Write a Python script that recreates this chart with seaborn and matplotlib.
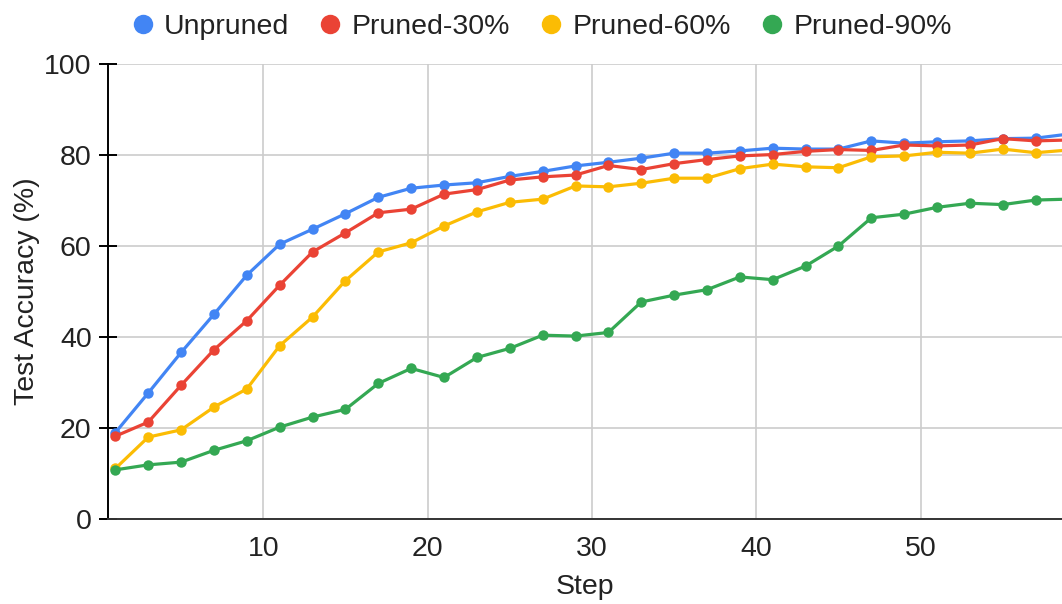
import matplotlib
matplotlib.use("Agg")
import matplotlib.pyplot as plt
from matplotlib.lines import Line2D
import numpy as np
import pandas as pd
import seaborn as sns

# Training steps at which test accuracy was evaluated
steps = [1, 3, 5, 7, 9, 11, 13, 15, 17, 19, 21, 23, 25, 27, 29,
         31, 33, 35, 37, 39, 41, 43, 45, 47, 49, 51, 53, 55, 57, 59]

unpruned = [19.0, 27.7, 36.6, 45.0, 53.6, 60.4, 63.7, 67.1, 70.7, 72.7,
            73.4, 73.9, 75.3, 76.4, 77.6, 78.4, 79.3, 80.4, 80.4, 80.9,
            81.5, 81.3, 81.3, 83.1, 82.6, 82.9, 83.1, 83.6, 83.7, 84.6]
pruned_30 = [18.2, 21.3, 29.4, 37.2, 43.6, 51.4, 58.7, 62.9, 67.3, 68.1,
             71.4, 72.4, 74.5, 75.2, 75.6, 77.7, 76.8, 78.1, 79.0, 79.8,
             80.1, 80.8, 81.2, 81.0, 82.2, 82.0, 82.2, 83.6, 83.1, 83.3]
pruned_60 = [11.1, 18.0, 19.6, 24.6, 28.6, 38.1, 44.4, 52.4, 58.7, 60.7,
             64.4, 67.5, 69.6, 70.3, 73.2, 73.0, 73.8, 74.9, 74.9, 77.0,
             78.0, 77.4, 77.2, 79.6, 79.8, 80.6, 80.4, 81.3, 80.5, 81.1]
pruned_90 = [10.8, 11.9, 12.5, 15.1, 17.2, 20.2, 22.4, 24.1, 29.8, 33.1,
             31.1, 35.5, 37.5, 40.4, 40.2, 41.0, 47.7, 49.2, 50.4, 53.2,
             52.6, 55.6, 60.0, 66.2, 67.0, 68.5, 69.4, 69.1, 70.1, 70.3]

series_names = ["Unpruned", "Pruned-30%", "Pruned-60%", "Pruned-90%"]
series_colors = ["#4285F4", "#EA4335", "#FBBC04", "#34A853"]
y_ticks = [0, 20, 40, 60, 80, 100]
x_ticks = [10, 20, 30, 40, 50]

frames = []
for name, vals in zip(series_names, [unpruned, pruned_30, pruned_60, pruned_90]):
    frames.append(pd.DataFrame({"Step": steps, "Accuracy": vals, "Model": name}))
df = pd.concat(frames, ignore_index=True)

sns.set_theme(style="white")
plt.rcParams["font.family"] = ["Liberation Sans", "DejaVu Sans"]

FS = 20.5

fig = plt.figure(figsize=(10.62, 6.04), dpi=100)
ax = fig.add_axes([108 / 1062, (604 - 519) / 604, (1062 - 108) / 1062, (519 - 64) / 604])

sns.lineplot(data=df, x="Step", y="Accuracy", hue="Model",
             hue_order=series_names, palette=series_colors,
             marker="o", markersize=7.5, markeredgewidth=0,
             linewidth=2.3, ax=ax, legend=False, clip_on=True)

ax.set_xlim(0.55, 58.6)
ax.set_ylim(0, 100)
ax.set_xticks(x_ticks)
ax.set_yticks(y_ticks)
ax.grid(True, color="#cccccc", linewidth=1.2)
ax.set_axisbelow(True)

for side in ["top", "right"]:
    ax.spines[side].set_visible(False)
ax.spines["left"].set_color("#000000")
ax.spines["left"].set_linewidth(1.4)
ax.spines["bottom"].set_color("#333333")
ax.spines["bottom"].set_linewidth(1.4)

ax.tick_params(axis="y", direction="inout", length=13.5, width=1.4,
               color="#000000", labelsize=FS, labelcolor="#222222", pad=5, left=True)
ax.tick_params(axis="x", length=0, labelsize=FS, labelcolor="#222222", pad=12)

ax.set_xlabel("Step", fontsize=FS, color="#222222", labelpad=9)
ax.set_ylabel("Test Accuracy (%)", fontsize=FS, color="#222222", labelpad=3)

handles = [Line2D([0], [0], marker="o", linestyle="none", markersize=14,
                  markerfacecolor=c, markeredgewidth=0) for c in series_colors]
fig.legend(handles, series_names, loc="center", bbox_to_anchor=(0.508, 0.955),
           ncol=4, frameon=False, fontsize=FS, handletextpad=0.2,
           columnspacing=0.9, handlelength=1.1, labelcolor="#222222")

fig.savefig("out.png", dpi=100)
